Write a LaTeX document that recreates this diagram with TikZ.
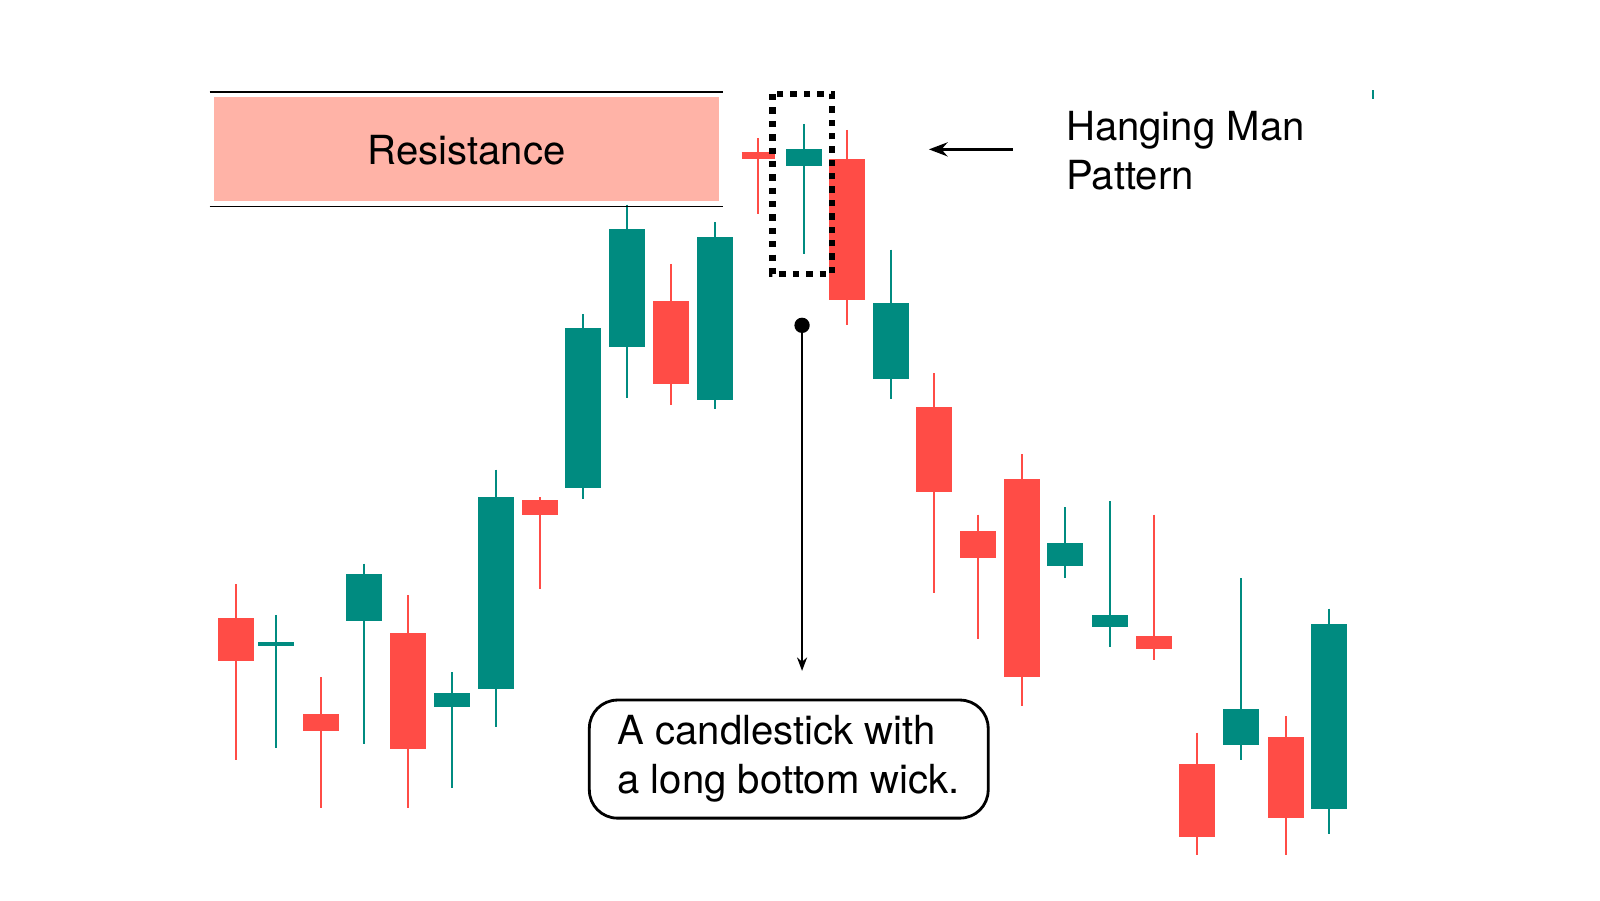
\documentclass[tikz,border=0pt]{standalone}
\usepackage{fontspec}
\setmainfont{TeX Gyre Heros}
\usetikzlibrary{arrows.meta, positioning}
\definecolor{bear}{HTML}{FF4C46}
\definecolor{bull}{HTML}{008B80}
\definecolor{zone}{HTML}{FFB3A7}
\tikzset{
  wick/.style={line width=0.6pt},
  label text/.style={font=\fontsize{11.4}{14}\selectfont, align=left},
}
\begin{document}
\begin{tikzpicture}[x=0.01023cm, y=-0.01023cm, > = {Stealth[scale=0.8]}]
    \useasboundingbox (0,0) rectangle (1564,880);
    \def\w{17.5}
    % candles: x / wick top / wick bottom / body top / body bottom / colour
    \foreach \x/\ht/\hb/\bt/\bb/\c in {231/571/743/604/646/bear, 270/601/731/628/631/bull,
      314/662/790/698/715/bear, 356/551/727/561/607/bull, 399/582/790/619/732/bear,
      442/657/770/677/691/bull, 485/459/711/486/673/bull, 528/486/576/489/503/bear,
      570/307/488/321/477/bull, 613/200/389/224/339/bull, 656/258/396/294/375/bear,
      699/217/400/232/391/bull, 786/121/248/146/162/bull, 828/127/318/155/293/bear,
      871/244/390/296/370/bull, 913/365/580/398/481/bear, 956/503/625/519/545/bear,
      999/444/690/468/662/bear, 1041/496/565/531/553/bull, 1085/490/632/601/613/bull,
      1128/503/645/622/634/bear, 1170/716/836/747/818/bear, 1213/565/743/693/728/bull,
      1257/700/836/720/800/bear, 1299/595/815/610/791/bull}
    {
      \draw[wick, \c] (\x,\ht) -- (\x,\hb);
      \fill[\c] (\x-\w,\bt) rectangle (\x+\w,\bb);
    }
    % doji
    \draw[wick, bear] (741,135) -- (741,209);
    \draw[line width=1.8pt, bear] (725,152) -- (758,152);
    \draw[wick, bull] (1342,88) -- (1342,97);
    % resistance zone
    \fill[zone] (209,95) rectangle (703,196);
    \draw[thin] (205,90) -- (707,90);
    \draw[thin] (205,202) -- (707,202);
    \node[label text] (res) at (456,147) {Resistance};
    % pattern marker
    \draw[line width=1.8pt, dotted] (755,92) rectangle (813,268);
    \node[label text, anchor=west] (hang) at (1030,147) {Hanging Man\\Pattern};
    \coordinate (hangtail) at (990,146);
    \coordinate (hangtip) at (908,146);
    \draw[->, thick] (hangtail) -- (hangtip);
    % wick callout
    \node[label text, draw, rounded corners=8pt, thick, minimum width=3.97cm, minimum height=1.18cm,
      inner xsep=8pt] (wicknote) at (771,742) {A candlestick with\\a long bottom wick.};
    \fill (784,318) circle (7.5) coordinate (dot);
    \draw[->] (dot) -- ([yshift=7.9pt] wicknote.north -| dot);
\end{tikzpicture}
\end{document}
